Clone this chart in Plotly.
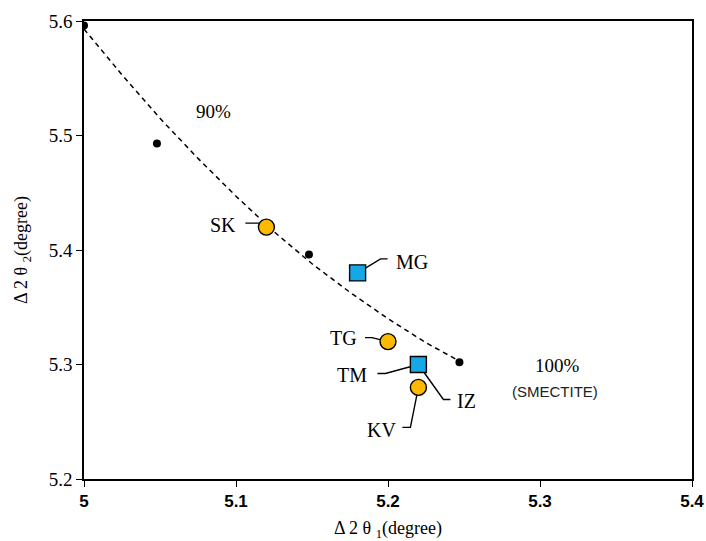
import plotly.graph_objects as go

# Reference series (small black markers) and the dashed trend curve
ref_x = [5.000, 5.048, 5.148, 5.247]
ref_y = [5.596, 5.493, 5.396, 5.302]

curve_x = [5.000, 5.025, 5.050, 5.075, 5.100, 5.125, 5.150, 5.175, 5.200, 5.225, 5.247]
curve_y = [5.593, 5.553, 5.515, 5.480, 5.447, 5.416, 5.388, 5.363, 5.340, 5.319, 5.303]

# Samples
circ_names = ["SK", "TG", "KV"]
circ_x = [5.12, 5.20, 5.22]
circ_y = [5.42, 5.32, 5.28]

sq_names = ["MG", "TM"]
sq_x = [5.18, 5.22]
sq_y = [5.38, 5.30]

X0, X1, Y0, Y1 = 5.0, 5.4, 5.2, 5.6
L, R, T, B = 84, 14, 21, 62
W, H = 706, 541
px_x = (X1 - X0) / (W - L - R)
px_y = (Y1 - Y0) / (H - T - B)

SERIF = "Liberation Serif, serif"

fig = go.Figure()

fig.add_trace(go.Scatter(x=curve_x, y=curve_y, mode="lines",
                         line=dict(color="black", width=1.5, dash="5px,4px"),
                         hoverinfo="skip", showlegend=False))
fig.add_trace(go.Scatter(x=ref_x, y=ref_y, mode="markers",
                         marker=dict(symbol="circle", size=8, color="black"),
                         showlegend=False))

# Leader lines: pixel offsets from each point (dx right, dy down), then label offset
leaders = {
    "SK": ((5.12, 5.42), [(0, 0), (-7, -4), (-21, -4)], (-43, -2)),
    "MG": ((5.18, 5.38), [(0, 0), (23, -14), (30, -14)], (54, -11)),
    "TG": ((5.20, 5.32), [(0, 0), (-16, -4), (-23, -4)], (-45, -4)),
    "TM": ((5.22, 5.30), [(0, 0), (-33, 9), (-41, 9)], (-66, 10)),
    "IZ": ((5.22, 5.30), [(0, 0), (25, 35), (32, 35)], (48, 36)),
    "KV": ((5.22, 5.28), [(0, 0), (-8, 40), (-16, 40)], (-37, 43)),
}
for name, ((px, py), path, (tx, ty)) in leaders.items():
    lx = [px + dx * px_x for dx, dy in path]
    ly = [py - dy * px_y for dx, dy in path]
    fig.add_trace(go.Scatter(x=lx, y=ly, mode="lines",
                             line=dict(color="black", width=1.4),
                             hoverinfo="skip", showlegend=False))
    fig.add_annotation(x=px + tx * px_x, y=py - ty * px_y, text=name, showarrow=False,
                       font=dict(family=SERIF, size=20, color="black"))

fig.add_trace(go.Scatter(x=circ_x, y=circ_y, mode="markers",
                         marker=dict(symbol="circle", size=16, color="#FBB900",
                                     line=dict(color="black", width=1.4)),
                         showlegend=False))
fig.add_trace(go.Scatter(x=sq_x, y=sq_y, mode="markers",
                         marker=dict(symbol="square", size=16, color="#14A9E6",
                                     line=dict(color="black", width=1.4)),
                         showlegend=False))

fig.add_annotation(x=X0 + (213 - L) * px_x, y=Y1 - (111 - T) * px_y, text="90%",
                   showarrow=False, font=dict(family=SERIF, size=19, color="black"))
fig.add_annotation(x=X0 + (557 - L) * px_x, y=Y1 - (365 - T) * px_y, text="100%",
                   showarrow=False, font=dict(family=SERIF, size=19, color="black"))
fig.add_annotation(x=X0 + (555 - L) * px_x, y=Y1 - (391 - T) * px_y, text="(SMECTITE)",
                   showarrow=False,
                   font=dict(family="Liberation Sans Narrow, Liberation Sans, sans-serif",
                             size=15, color="#222"))

fig.update_xaxes(range=[X0, X1], tickvals=[5.0, 5.1, 5.2, 5.3, 5.4],
                 ticktext=["5", "5.1", "5.2", "5.3", "5.4"], automargin=False,
                 showgrid=False, zeroline=False, showline=True, linecolor="black", linewidth=1.5,
                 mirror=True, ticks="outside", ticklen=6, tickcolor="black",
                 tickfont=dict(family="Liberation Sans Narrow, Liberation Sans, sans-serif",
                               size=17, color="black", weight="bold"),
                 title=dict(text="Δ 2 θ <sub>1</sub>(degree)", standoff=12,
                            font=dict(family=SERIF, size=18, color="black")))
fig.update_yaxes(range=[Y0, Y1], tickvals=[5.2, 5.3, 5.4, 5.5, 5.6],
                 ticktext=["5.2", "5.3", "5.4", "5.5", "5.6"], automargin=False,
                 showgrid=False, zeroline=False, showline=True, linecolor="black", linewidth=1.5,
                 mirror=True, ticks="outside", ticklen=6, tickcolor="black",
                 tickfont=dict(family=SERIF, size=19, color="black"),
                 title=dict(text="Δ 2 θ <sub>2</sub>(degree)", standoff=16,
                            font=dict(family=SERIF, size=18, color="black")))

fig.update_layout(width=W, height=H, margin=dict(l=L, r=R, t=T, b=B),
                  plot_bgcolor="white", paper_bgcolor="white")

fig.write_html("out.html")
